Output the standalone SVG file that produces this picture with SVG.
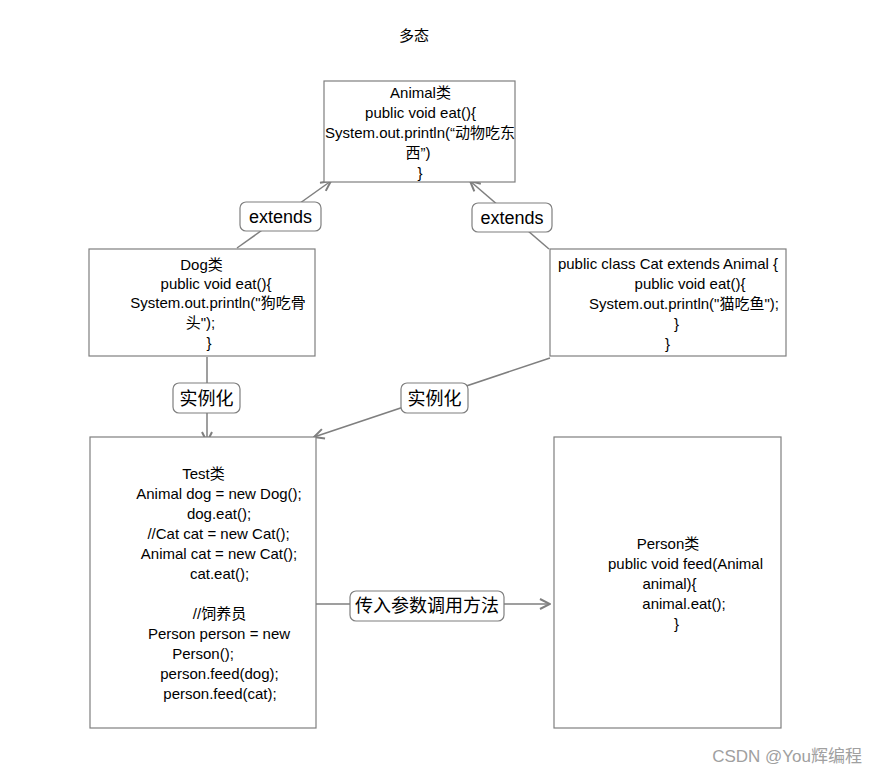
<svg xmlns="http://www.w3.org/2000/svg" width="877" height="774" viewBox="0 0 877 774">
<defs>
<style>
.box{fill:#fff;stroke:#7f7f7f;stroke-width:1.2}
.lbl{fill:#fff;stroke:#7f7f7f;stroke-width:1.2}
.t{font-family:"Liberation Sans","Noto Sans CJK SC",sans-serif;font-size:15px;fill:#000;text-anchor:middle}
.l{font-family:"Liberation Sans","Noto Sans CJK SC",sans-serif;font-size:18px;fill:#000;text-anchor:middle}
.c{fill:none;stroke:#7f7f7f;stroke-width:1.5}
</style>
<marker id="ah" viewBox="0 0 12 12" refX="11" refY="6" markerWidth="12" markerHeight="12" markerUnits="userSpaceOnUse" orient="auto">
<path d="M1,1 L11,6 L1,11" fill="none" stroke="#7f7f7f" stroke-width="2"/>
</marker>
</defs>
<rect width="877" height="774" fill="#fff"/>
<text class="t" x="414" y="41">多态</text>

<g id="connectors">
<path class="c" d="M237,248 L331,181" marker-end="url(#ah)"/>
<path class="c" d="M549,249 L470,181" marker-end="url(#ah)"/>
<path class="c" d="M207,357 L207,442" marker-end="url(#ah)"/>
<path class="c" d="M550,358 L314,437" marker-end="url(#ah)"/>
<path class="c" d="M316,604 L550,604" marker-end="url(#ah)"/>
<g id="lbl-ext1"><rect class="lbl" x="240" y="202" width="81" height="29" rx="6"/><text class="l" x="280.5" y="223">extends</text></g>
<g id="lbl-ext2"><rect class="lbl" x="472" y="203" width="80" height="29" rx="6"/><text class="l" x="512" y="224">extends</text></g>
<g id="lbl-inst1"><rect class="lbl" x="173" y="383" width="67" height="30" rx="6"/><text class="l" x="206.5" y="405">实例化</text></g>
<g id="lbl-inst2"><rect class="lbl" x="401" y="383" width="67" height="30" rx="6"/><text class="l" x="434.5" y="405">实例化</text></g>
<g id="lbl-pass"><rect class="lbl" x="350" y="591" width="154" height="30" rx="6"/><text class="l" x="427" y="612">传入参数调用方法</text></g>
</g>

<g id="animal">
<rect class="box" x="324" y="81" width="191" height="101"/>
<text class="t" x="420.5" y="98">Animal类</text>
<text class="t" x="420.5" y="118">public void eat(){</text>
<text class="t" x="420" y="138">System.out.println(“动物吃东</text>
<text class="t" x="418" y="158">西”)</text>
<text class="t" x="420" y="178">}</text>
</g>

<g id="dog">
<rect class="box" x="89" y="249" width="226" height="107"/>
<text class="t" x="201.5" y="270">Dog类</text>
<text class="t" x="216" y="289">public void eat(){</text>
<text class="t" x="218" y="308">System.out.println("狗吃骨</text>
<text class="t" x="200.5" y="328">头");</text>
<text class="t" x="209" y="348">}</text>
</g>

<g id="cat">
<rect class="box" x="550" y="249" width="236" height="107"/>
<text class="t" x="668" y="269">public class Cat extends Animal {</text>
<text class="t" x="690" y="289">public void eat(){</text>
<text class="t" x="684" y="309">System.out.println("猫吃鱼");</text>
<text class="t" x="676.5" y="329">}</text>
<text class="t" x="667.5" y="349">}</text>
</g>

<g id="test">
<rect class="box" x="90" y="437" width="226" height="291"/>
<text class="t" x="203.5" y="479">Test类</text>
<text class="t" x="219" y="499">Animal dog = new Dog();</text>
<text class="t" x="219" y="519">dog.eat();</text>
<text class="t" x="218.5" y="539">//Cat cat = new Cat();</text>
<text class="t" x="219" y="559">Animal cat = new Cat();</text>
<text class="t" x="219.5" y="579">cat.eat();</text>
<text class="t" x="219.5" y="619">//饲养员</text>
<text class="t" x="219" y="639">Person person = new</text>
<text class="t" x="203" y="659">Person();</text>
<text class="t" x="219.5" y="679">person.feed(dog);</text>
<text class="t" x="220" y="699">person.feed(cat);</text>
</g>

<g id="person">
<rect class="box" x="554" y="437" width="227" height="291"/>
<text class="t" x="668" y="549">Person类</text>
<text class="t" x="685.5" y="569">public void feed(Animal</text>
<text class="t" x="669.5" y="589">animal){</text>
<text class="t" x="684" y="609">animal.eat();</text>
<text class="t" x="676.5" y="629">}</text>
</g>

<text x="862" y="762" font-family="'Liberation Sans','Noto Sans CJK SC',sans-serif" font-size="17" fill="#a0a0a0" text-anchor="end">CSDN @You辉编程</text>
</svg>
